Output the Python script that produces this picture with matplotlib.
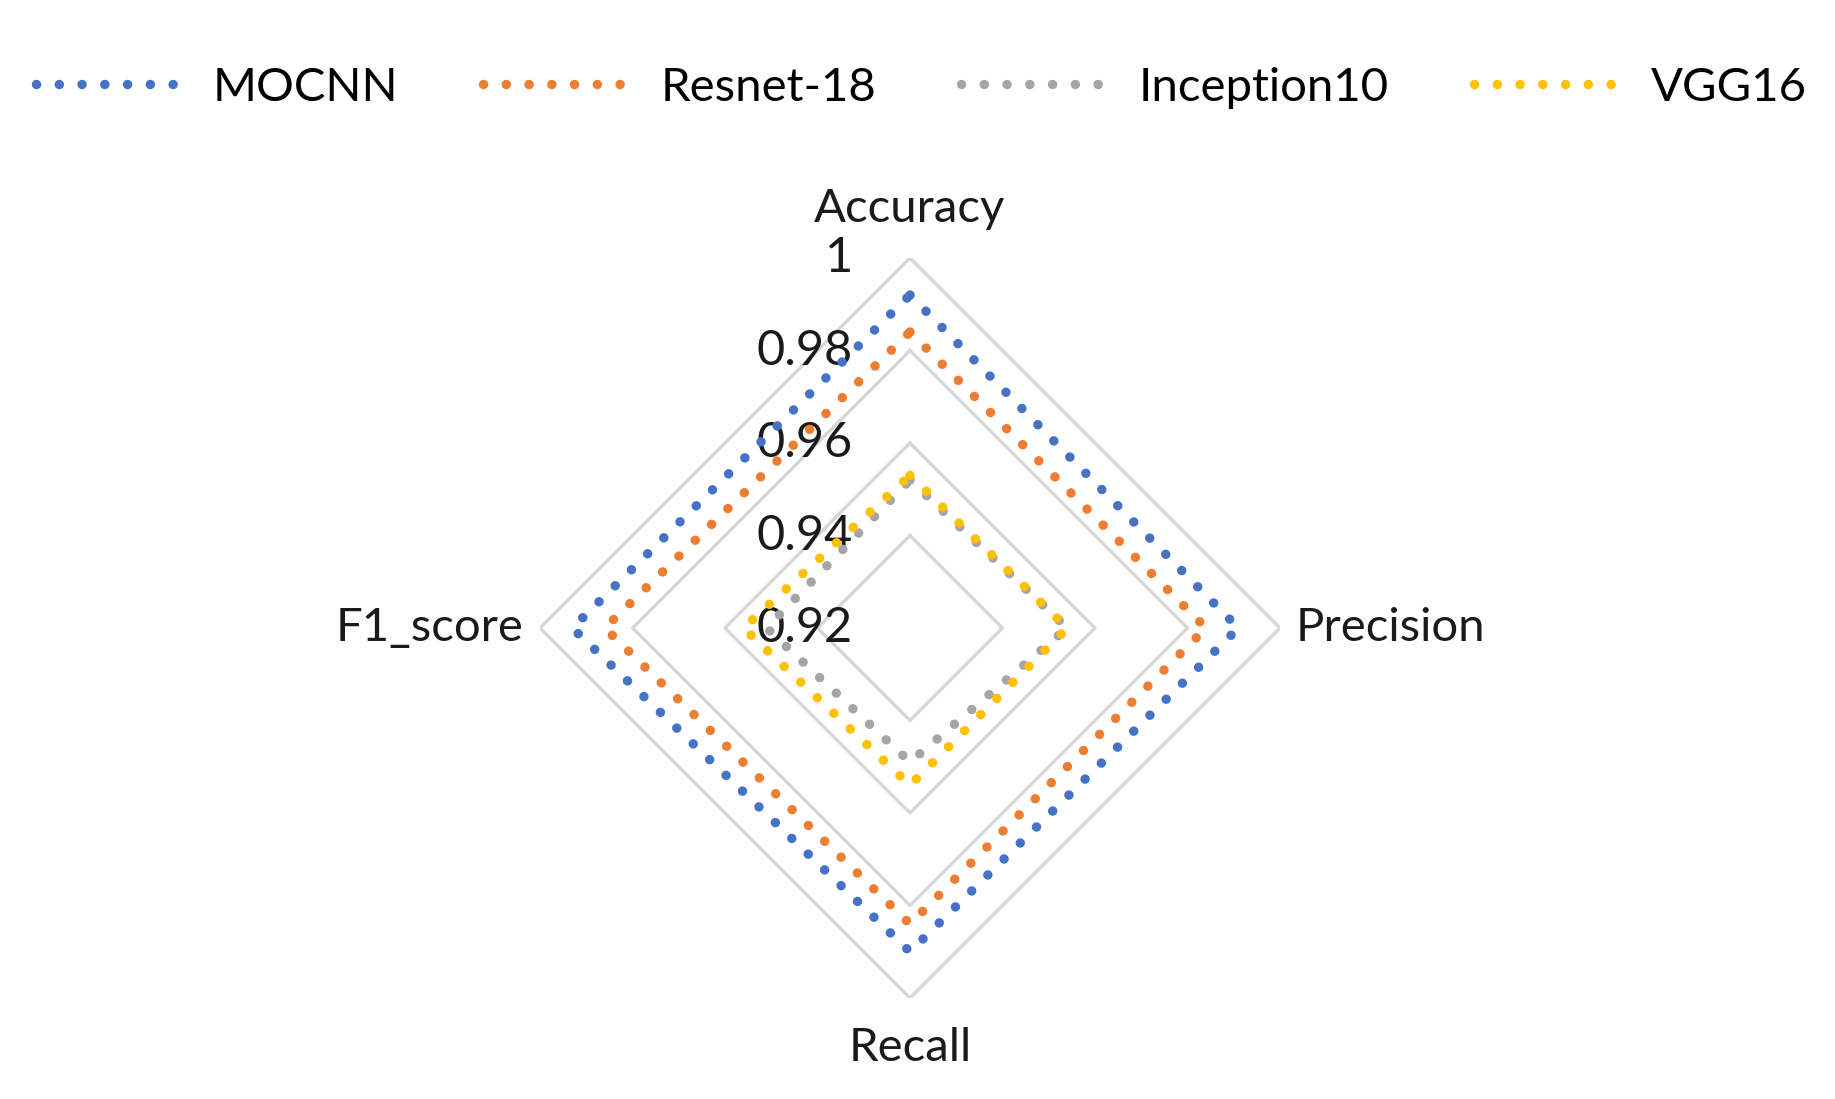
import numpy as np
import matplotlib.pyplot as plt

# metrics shown on the radar
categories = ['Accuracy', 'Precision', 'Recall', 'F1_score']
models = ['MOCNN', 'Resnet-18', 'Inception10', 'VGG16']
mocnn = [0.992, 0.991, 0.990, 0.993]
resnet18 = [0.984, 0.984, 0.984, 0.986]
inception10 = [0.952, 0.954, 0.949, 0.951]
vgg16 = [0.953, 0.954, 0.954, 0.956]
r_ticks = [0.92, 0.94, 0.96, 0.98, 1.0]

colors = ['#4472C4', '#ED7D31', '#A5A5A5', '#FFC000']
series = [mocnn, resnet18, inception10, vgg16]

plt.rcParams['font.family'] = ['Lato', 'DejaVu Sans']

W, H = 1835, 1099
fig = plt.figure(figsize=(W / 100, H / 100), dpi=100)
# polar axes placed so the centre sits at (910, 628) px with radius 370 px
cx, cy, rad = 910, 628, 370
ax = fig.add_axes([(cx - rad) / W, 1 - (cy + rad) / H, 2 * rad / W, 2 * rad / H],
                  projection='polar')
ax.set_theta_offset(np.pi / 2)
ax.set_theta_direction(-1)
ax.set_ylim(r_ticks[0], r_ticks[-1])
ax.grid(False)
ax.spines['polar'].set_visible(False)
ax.set_xticks([])
ax.set_yticks([])

angles = np.linspace(0, 2 * np.pi, len(categories), endpoint=False)
closed = np.append(angles, angles[0])

# diamond gridlines
for r in r_ticks[1:]:
    ax.plot(closed, [r] * len(closed), color='#D6D6D6', lw=2.4, zorder=1)

# dotted series
for name, vals, c in zip(models, series, colors):
    v = np.append(vals, vals[0])
    ax.plot(closed, v, color=c, lw=6.8, linestyle=(0, (0.01, 2.4)),
            dash_capstyle='round', label=name, clip_on=False, zorder=3)

# radial tick labels beside the top spoke
for r in r_ticks:
    ax.annotate(f'{r:g}', xy=(0, r), xytext=(-41, 0), textcoords='offset points',
                ha='right', va='center', fontsize=35, color='#1a1a1a', zorder=2)

# category labels
offsets = [(0, 20, 'center', 'bottom'), (11, 0, 'left', 'center'),
           (0, -21, 'center', 'top'), (-12, 0, 'right', 'center')]
for a, lab, (dx, dy, ha, va) in zip(angles, categories, offsets):
    ax.annotate(lab, xy=(a, r_ticks[-1]), xytext=(dx, dy), textcoords='offset points',
                ha=ha, va=va, fontsize=34, color='#1a1a1a')

fig.legend(loc='center', bbox_to_anchor=(0.502, 1 - 88 / H), ncol=4, frameon=False,
           fontsize=34, handlelength=3.2, handletextpad=0.55, columnspacing=1.8)

fig.savefig('out.png', dpi=100)
